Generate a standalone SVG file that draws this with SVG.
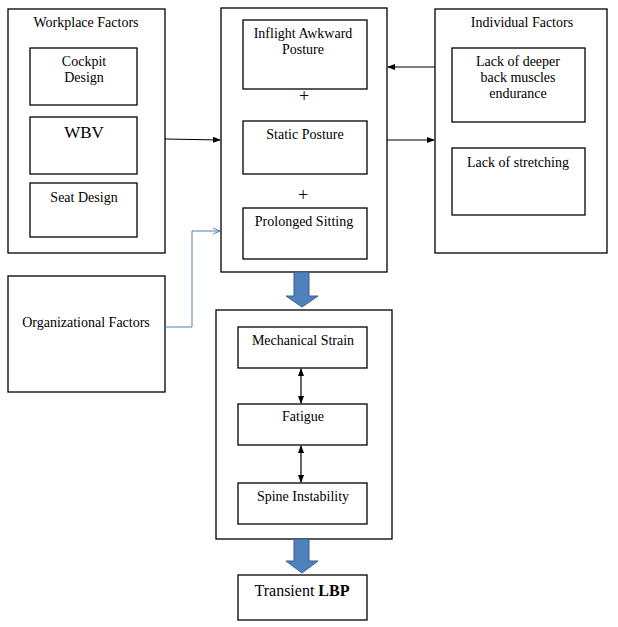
<svg xmlns="http://www.w3.org/2000/svg" width="618" height="627" viewBox="0 0 618 627">
<style>
rect{fill:#fff;stroke:#000;stroke-width:1.3}
text{font-family:"Liberation Serif","Times New Roman","DejaVu Serif",serif;font-size:14px;text-anchor:middle;fill:#000}
.p{font-size:18px}
.l{stroke:#000;stroke-width:1.2;fill:none}
.b{fill:#4f81bd;stroke:#385d8a;stroke-width:1}
</style>
<defs>
<marker id="a" markerWidth="8" markerHeight="8" refX="7" refY="4" orient="auto" markerUnits="userSpaceOnUse"><path d="M0,1 L8,4 L0,7 Z" fill="#000"/></marker>
<marker id="s" markerWidth="8" markerHeight="8" refX="1" refY="4" orient="auto" markerUnits="userSpaceOnUse"><path d="M8,1 L0,4 L8,7 Z" fill="#000"/></marker>
<marker id="bl" markerWidth="8" markerHeight="8" refX="7" refY="4" orient="auto" markerUnits="userSpaceOnUse"><path d="M0,1 L7,4 L0,7" fill="none" stroke="#4f81bd"/></marker>
</defs>
<g id="workplace"><rect x="8" y="9" width="157" height="244"/><text x="86" y="27">Workplace Factors</text></g>
<g id="cockpit"><rect x="30" y="48" width="107" height="57"/><text x="84" y="66">Cockpit</text><text x="84" y="82">Design</text></g>
<g id="wbv"><rect x="30" y="117" width="107" height="57"/><text x="84" y="138" style="font-size:17px">WBV</text></g>
<g id="seat"><rect x="30" y="183" width="107" height="54"/><text x="84" y="202">Seat Design</text></g>
<g id="org"><rect x="8" y="276" width="157" height="116"/><text x="86" y="327">Organizational Factors</text></g>
<g id="center"><rect x="221" y="8" width="166" height="264"/></g>
<g id="inflight"><rect x="243" y="20" width="124" height="69"/><text x="303" y="38">Inflight Awkward</text><text x="303" y="54">Posture</text></g>
<text class="p" x="304" y="102">+</text>
<g id="static"><rect x="243" y="121" width="124" height="53"/><text x="305" y="139">Static Posture</text></g>
<text class="p" x="303" y="201">+</text>
<g id="sitting"><rect x="243" y="208" width="124" height="51"/><text x="304" y="226">Prolonged Sitting</text></g>
<g id="individual"><rect x="435" y="9" width="172" height="244"/><text x="522" y="27">Individual Factors</text></g>
<g id="deeper"><rect x="452" y="48" width="133" height="74"/><text x="518" y="66">Lack of deeper</text><text x="518" y="82">back muscles</text><text x="518" y="98">endurance</text></g>
<g id="stretch"><rect x="452" y="148" width="133" height="67"/><text x="518" y="167">Lack of stretching</text></g>
<g id="mech"><rect x="216" y="310" width="176" height="229"/></g>
<g id="strain"><rect x="238" y="327" width="129" height="41"/><text x="303" y="345">Mechanical Strain</text></g>
<g id="fatigue"><rect x="238" y="404" width="129" height="41"/><text x="303" y="421">Fatigue</text></g>
<g id="spine"><rect x="238" y="483" width="129" height="41"/><text x="303" y="501">Spine Instability</text></g>
<g id="lbp"><rect x="238" y="575" width="129" height="45"/><text x="302" y="596" style="font-size:16px">Transient <tspan font-weight="bold">LBP</tspan></text></g>
<g id="connectors">
<path class="l" d="M165,139 L220,140" marker-end="url(#a)"/>
<path class="l" d="M387,140 L434,140" marker-end="url(#a)"/>
<path class="l" d="M435,67 L388,67" marker-end="url(#a)"/>
<path d="M165,327 H192 V231 H220" fill="none" stroke="#4f81bd" stroke-width="1" marker-end="url(#bl)"/>
<path class="l" d="M301,369 V403" marker-start="url(#s)" marker-end="url(#a)"/>
<path class="l" d="M301,446 V482" marker-start="url(#s)" marker-end="url(#a)"/>
<path class="b" d="M294,272 H309 V296 H318 L302,307 L286,296 H294 Z"/>
<path class="b" d="M294,539 H309 V561 H318 L302,573 L286,561 H294 Z"/>
</g>
</svg>
